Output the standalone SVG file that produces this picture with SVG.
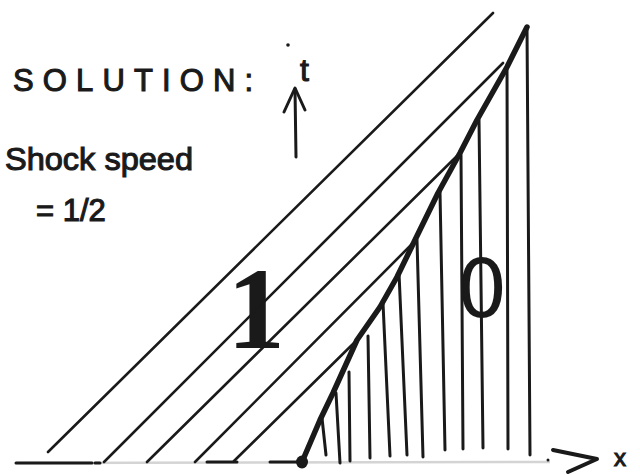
<svg xmlns="http://www.w3.org/2000/svg" width="640" height="475" viewBox="0 0 640 475">
<style>
.ink{stroke:#1a1a1a;fill:none;stroke-linecap:round;stroke-linejoin:round}
.diag{stroke-width:2.6}
.vert{stroke-width:3}
.shock{stroke-width:5.5}
.axis{stroke-width:3}
.faint{stroke:#d4d4d4;stroke-width:2.5;fill:none}
.txt{font-family:"Liberation Sans",Arial,sans-serif;fill:#1a1a1a;stroke:#1a1a1a;stroke-width:1.1}
</style>
<rect width="640" height="475" fill="#ffffff"/>
<g id="labels">
<text class="txt" x="13" y="91" font-size="31" textLength="240" lengthAdjust="spacing">SOLUTION:</text>
<text class="txt" x="5" y="170" font-size="32" textLength="188" lengthAdjust="spacingAndGlyphs">Shock speed</text>
<text class="txt" x="36" y="221" font-size="31">= 1/2</text>
<circle cx="288" cy="45" r="1.8" fill="#1a1a1a"/>
<text class="txt" x="300" y="81" font-size="32">t</text>
<text x="256" y="348" font-family="'Liberation Serif','Times New Roman',serif" font-weight="bold" font-size="116" text-anchor="middle" fill="#1a1a1a">1</text>
<text x="482" y="317" font-family="'DejaVu Sans',sans-serif" font-size="80" text-anchor="middle" fill="#1a1a1a">0</text>
<text class="txt" x="614" y="466" font-size="24">x</text>
</g>
<g id="t-axis" class="ink axis">
<line x1="296" y1="157" x2="295" y2="89"/>
<polyline points="284,112 295,88 305,110"/>
</g>
<g id="x-axis">
<line class="faint" x1="16" y1="463" x2="550" y2="462"/>
<g class="ink axis">
<line x1="16" y1="463" x2="92" y2="463"/>
<line x1="95" y1="463" x2="100" y2="463"/>
<line x1="207" y1="462" x2="237" y2="462"/>
<line x1="270" y1="462" x2="296" y2="462"/>
<polyline points="553,450 597,459 568,472" stroke-width="4"/>
</g>
<circle cx="548" cy="460" r="1.5" fill="#1a1a1a"/>
</g>
<g id="characteristics-1" class="ink diag">
<line x1="48" y1="452" x2="493" y2="13"/>
<line x1="104" y1="462" x2="503" y2="63"/>
<line x1="147" y1="462" x2="460" y2="153"/>
<line x1="195" y1="462" x2="415" y2="241"/>
<line x1="234" y1="461" x2="357" y2="340"/>
</g>
<g id="characteristics-0" class="ink vert">
<line x1="322" y1="418" x2="326" y2="455"/>
<line x1="336" y1="393" x2="340" y2="463"/>
<line x1="349" y1="372" x2="350" y2="461"/>
<line x1="368" y1="336" x2="370" y2="458"/>
<line x1="383" y1="303" x2="390" y2="456"/>
<line x1="399" y1="273" x2="407" y2="455"/>
<line x1="417" y1="240" x2="423" y2="457"/>
<line x1="440" y1="192" x2="445" y2="450"/>
<line x1="461" y1="155" x2="463" y2="449"/>
<line x1="479" y1="120" x2="483" y2="448"/>
<line x1="507" y1="66" x2="508" y2="449"/>
<line x1="527" y1="27" x2="530" y2="455"/>
</g>
<g id="shock">
<polyline class="ink shock" points="302,462 320,420 333,393 357,340 380,307 397,277 415,240 438,193 460,153 477,120 507,67 527,27"/>
<ellipse cx="302" cy="462" rx="6" ry="6.5" fill="#1a1a1a"/>
</g>
</svg>
